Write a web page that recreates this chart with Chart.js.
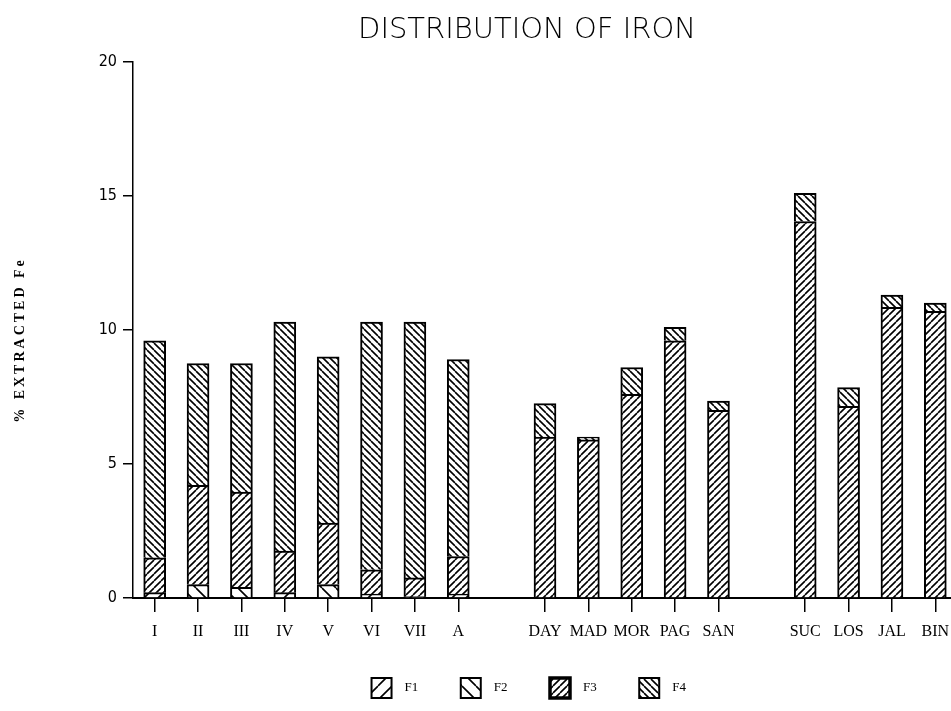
<!DOCTYPE html>
<html>
<head>
<meta charset="utf-8">
<script src="https://cdn.jsdelivr.net/npm/chart.js@4.4.1/dist/chart.umd.min.js"></script>
<style>
  html, body { margin: 0; padding: 0; background: #fff; overflow: hidden; }
  #wrap { width: 960px; height: 711px; }
</style>
</head>
<body>
<div id="wrap"><canvas id="myChart" width="960" height="711"></canvas></div>
<script>
// sites, with an empty slot between the three groups
const categories = ['I', 'II', 'III', 'IV', 'V', 'VI', 'VII', 'A', '',
  'DAY', 'MAD', 'MOR', 'PAG', 'SAN', '',
  'SUC', 'LOS', 'JAL', 'BIN'];

// % extracted Fe per fraction
const f1 = [0.2, 0, 0, 0.2, 0, 0.15, 0.05, 0.15, null, 0, 0, 0, 0, 0, null, 0, 0, 0, 0];
const f2 = [0, 0.5, 0.4, 0, 0.5, 0, 0, 0, null, 0, 0, 0, 0, 0, null, 0, 0, 0, 0];
const f3 = [1.3, 3.7, 3.55, 1.55, 2.3, 0.9, 0.7, 1.4, null, 6.0, 5.9, 7.6, 9.6, 7.0, null, 14.05, 7.15, 10.85, 10.7];
const f4 = [8.1, 4.55, 4.8, 8.55, 6.2, 9.25, 9.55, 7.35, null, 1.25, 0.1, 1.0, 0.5, 0.35, null, 1.05, 0.7, 0.45, 0.3];

const yTicks = [0, 5, 10, 15, 20];

// diagonal hatch fill, dir 1 = "/", -1 = "\"
function hatch(size, dir) {
  const c = document.createElement('canvas');
  c.width = size; c.height = size;
  const g = c.getContext('2d');
  g.fillStyle = '#fff';
  g.fillRect(0, 0, size, size);
  g.strokeStyle = '#000';
  g.lineWidth = 1.6;
  g.beginPath();
  for (const k of [-size, 0, size]) {
    if (dir > 0) { g.moveTo(k, size); g.lineTo(k + size, 0); }
    else { g.moveTo(k, 0); g.lineTo(k + size, size); }
  }
  g.stroke();
  return g.createPattern(c, 'repeat');
}

const ctx = document.getElementById('myChart');

const textPlugin = {
  id: 'texts',
  afterDraw(chart) {
    const c = chart.ctx;
    c.save();
    c.fillStyle = '#000';
    c.font = '200 29px "DejaVu Sans"';
    c.textAlign = 'center';
    c.textBaseline = 'middle';
    c.fillText('DISTRIBUTION OF IRON', 527, 30);
    c.translate(20, 340);
    c.rotate(-Math.PI / 2);
    c.font = 'bold 14px "Liberation Serif"';
    c.letterSpacing = '3px';
    c.fillText('% EXTRACTED Fe', 0, 0);
    c.restore();
  }
};

function ds(label, data, bg) {
  return {
    label: label,
    data: data,
    backgroundColor: bg,
    borderColor: '#000',
    borderWidth: 2,
    borderSkipped: 'start',
    barThickness: 22
  };
}

new Chart(ctx, {
  type: 'bar',
  data: {
    labels: categories,
    datasets: [
      ds('F1', f1, hatch(14, 1)),
      ds('F2', f2, hatch(14, -1)),
      ds('F3', f3, hatch(7, 1)),
      ds('F4', f4, hatch(7, -1))
    ]
  },
  options: {
    responsive: false,
    animation: false,
    devicePixelRatio: 1,
    layout: { padding: { top: 62, right: 3, bottom: 3, left: 0 } },
    plugins: {
      title: { display: false },
      tooltip: { enabled: false },
      legend: {
        position: 'bottom',
        fullSize: false,
        labels: {
          boxWidth: 20,
          boxHeight: 20,
          padding: 10,
          color: '#000',
          font: { family: '"Liberation Serif"', size: 13 },
          generateLabels(chart) {
            const items = Chart.defaults.plugins.legend.labels.generateLabels(chart);
            items.forEach(it => {
              it.text = '  ' + it.text + '          ';
              it.lineWidth = it.text.indexOf('F3') >= 0 ? 3.5 : 2;
            });
            return items;
          }
        }
      }
    },
    scales: {
      x: {
        stacked: true,
        afterFit(scale) { scale.height = 70; },
        border: { display: true, color: '#000', width: 2 },
        grid: {
          offset: false,
          drawOnChartArea: false,
          drawTicks: true,
          tickLength: 14,
          lineWidth: 1.5,
          tickColor: c => categories[c.index] ? '#000' : 'rgba(0,0,0,0)'
        },
        ticks: {
          color: '#000',
          padding: 10,
          maxRotation: 0,
          autoSkip: false,
          font: { family: '"Liberation Serif"', size: 16 }
        }
      },
      y: {
        stacked: true,
        min: 0,
        max: 20,
        afterFit(scale) { scale.width = 133; },
        afterBuildTicks(scale) { scale.ticks = yTicks.map(v => ({ value: v })); },
        border: { display: true, color: '#000', width: 1.5 },
        grid: {
          drawOnChartArea: false,
          tickLength: 10,
          lineWidth: 1.5,
          tickColor: '#000'
        },
        ticks: {
          color: '#000',
          padding: 6,
          font: { family: '"Liberation Sans Narrow", "DejaVu Sans Condensed"', size: 16 }
        }
      }
    }
  },
  plugins: [textPlugin]
});
</script>
</body>
</html>
